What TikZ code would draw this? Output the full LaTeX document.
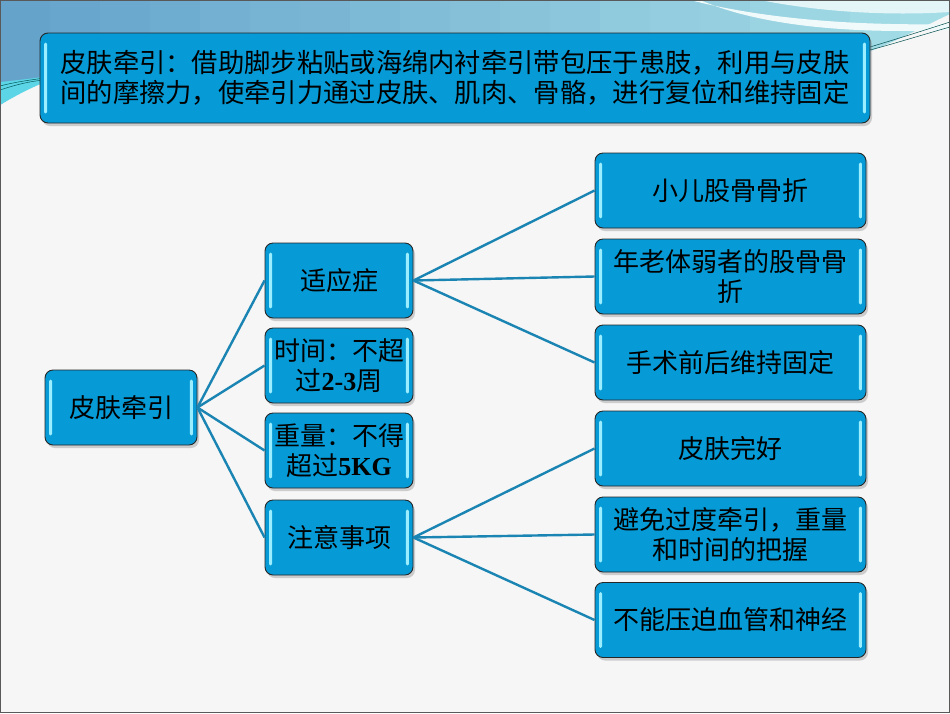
\documentclass[tikz,border=0pt]{standalone}
\usepackage{fontspec}
\newfontfamily\cjk{Noto Sans CJK SC}
\newfontfamily\latb{Liberation Serif}
\usetikzlibrary{shadows}
\definecolor{boxblue}{HTML}{069BD7}
\definecolor{linkblue}{HTML}{1A84B2}
\definecolor{hilite}{HTML}{9BEEFF}
\definecolor{bgwhite}{HTML}{F6F6F6}
\definecolor{bandL}{HTML}{65A3CB}
\definecolor{bandR}{HTML}{A4DDE6}
\definecolor{cyanband}{HTML}{5CD5E6}
\newcommand{\shinebox}[1]{%
  \fill[hilite, rounded corners=1.4pt] ([xshift=4.5pt,yshift=-10pt]#1.north west) rectangle ([xshift=7.5pt,yshift=10pt]#1.south west);
  \fill[hilite, rounded corners=1.4pt] ([xshift=-7.5pt,yshift=-10pt]#1.north east) rectangle ([xshift=-4.5pt,yshift=10pt]#1.south east);}
\tikzset{
  box/.style={rectangle, rounded corners=8pt, fill=boxblue, draw=black!85,
    line width=0.9pt, drop shadow={opacity=0.35, shadow xshift=2pt, shadow yshift=-3pt},
    align=center, inner sep=0pt,
    font=\cjk\fontsize{26}{30}\selectfont},
  midbox/.style={box, minimum width=148pt, minimum height=75pt, text width=140pt},
  rbox/.style={box, minimum width=271pt, minimum height=75pt, text width=250pt},
  link/.style={draw=linkblue, line width=2.4pt}
}
\begin{document}
\begin{tikzpicture}[x=1pt,y=-1pt]
\useasboundingbox (0,0) rectangle (950,713);
% background
\fill[bgwhite] (0,0) rectangle (950,713);
\begin{scope}
\clip (0,0) -- (950,0) -- (950,14) .. controls (920,28) and (895,42) .. (868,52)
  -- (100,62) .. controls (60,70) and (25,88) .. (0,105) -- cycle;
\foreach \i in {0,...,18} {
  \pgfmathsetmacro{\mixv}{100-\i*100/18}
  \fill[bandL!\mixv!bandR] (\i*50,0) rectangle (\i*50+51,110);
}
\end{scope}
\fill[cyanband] (0,82) .. controls (20,80) and (35,78) .. (50,76) -- (50,80)
  .. controls (30,88) and (15,96) .. (0,105) -- cycle;
\fill[white!85!bandR] (690,0) .. controls (760,18) and (850,26) .. (950,24)
  -- (950,30) .. controls (850,34) and (760,26) .. (700,0) -- cycle;
\fill[white!70!bandR] (760,0) .. controls (820,12) and (890,16) .. (950,12) -- (950,0) -- cycle;
\draw[teal!70!black, line width=0.5pt] (0,86) .. controls (15,82) and (30,80) .. (45,78);
\draw[teal!70!black, line width=0.5pt] (0,90) .. controls (15,85) and (30,81) .. (45,80);
\draw[teal!60!black, line width=0.5pt] (870,47) .. controls (900,38) and (925,30) .. (950,22);
\draw[teal!60!black, line width=0.5pt] (870,50) .. controls (900,42) and (925,34) .. (950,27);
\draw[black!65, line width=1.4pt] (0.7,0.7) rectangle (949.3,712.3);

% top box
\node[box, minimum width=830pt, minimum height=90pt, text width=800pt,
  font=\cjk\fontsize{26.3}{30}\selectfont] (top) at (455,78)
  {皮肤牵引：借助脚步粘贴或海绵内衬牵引带包压于患肢，利用与皮肤\\间的摩擦力，使牵引力通过皮肤、肌肉、骨骼，进行复位和维持固定};

% root
\node[box, minimum width=152pt, minimum height=75pt, text width=140pt] (root) at (121,407.5) {皮肤牵引};

% middle column
\node[midbox] (m1) at (339,280.5) {适应症};
\node[midbox] (m2) at (339,365.5) {时间：不超\\过{\latb\bfseries 2-3}周};
\node[midbox] (m3) at (339,450.5) {重量：不得\\超过{\latb\bfseries 5KG}};
\node[midbox] (m4) at (339,537.5) {注意事项};

% right column
\node[rbox] (r1) at (730.5,190.5) {小儿股骨骨折};
\node[rbox] (r2) at (730.5,276.5) {年老体弱者的股骨骨\\折};
\node[rbox] (r3) at (730.5,362.5) {手术前后维持固定};
\node[rbox] (r4) at (730.5,448.5) {皮肤完好};
\node[rbox] (r5) at (730.5,534.5) {避免过度牵引，重量\\和时间的把握};
\node[rbox] (r6) at (730.5,620) {不能压迫血管和神经};

% connectors
\foreach \m in {m1,m2,m3,m4} \draw[link] (root.east) -- (\m.west);
\foreach \r in {r1,r2,r3} \draw[link] (m1.east) -- (\r.west);
\foreach \r in {r4,r5,r6} \draw[link] (m4.east) -- (\r.west);

% glossy edge highlights
\shinebox{top}
\shinebox{root}
\shinebox{m1}
\shinebox{m2}
\shinebox{m3}
\shinebox{m4}
\shinebox{r1}
\shinebox{r2}
\shinebox{r3}
\shinebox{r4}
\shinebox{r5}
\shinebox{r6}
\end{tikzpicture}
\end{document}
